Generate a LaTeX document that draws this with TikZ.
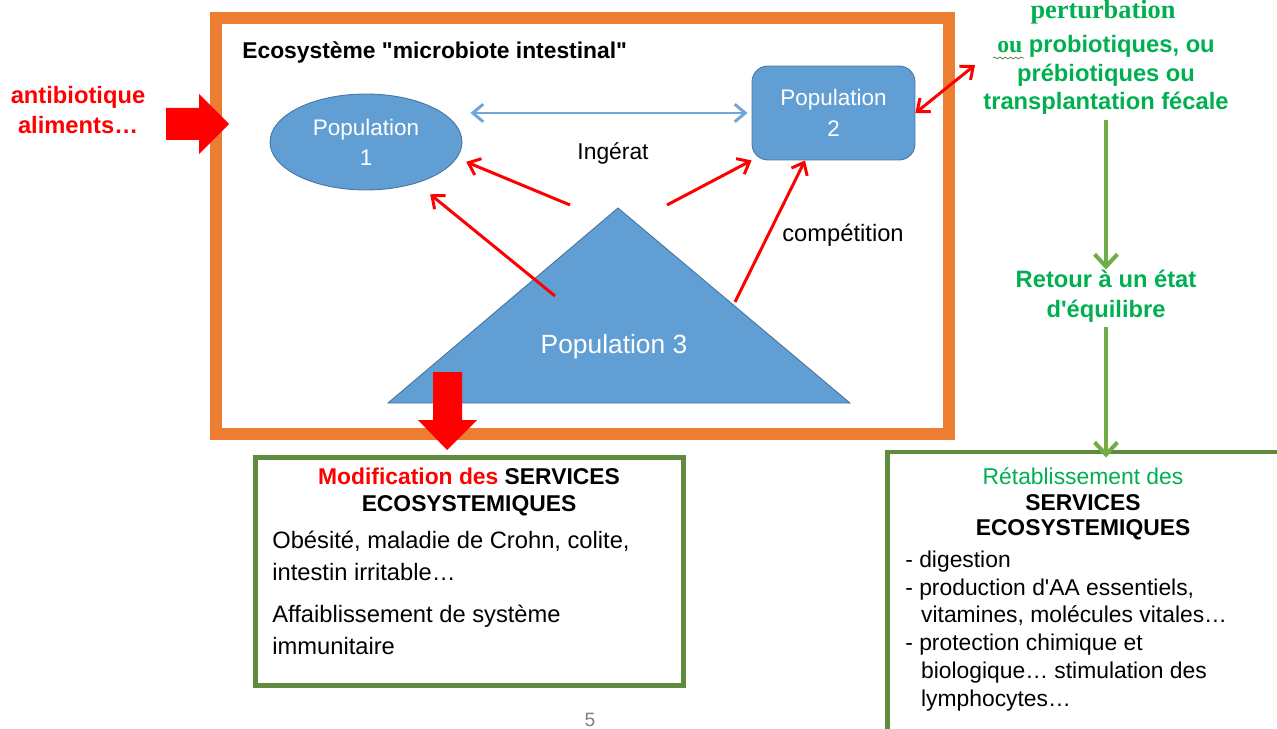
\documentclass[tikz,border=0pt]{standalone}
\usepackage{fontspec}
\setmainfont{Liberation Sans}[Ligatures=TeXOff]
\newfontfamily\serif{Liberation Serif}
\usetikzlibrary{arrows.meta,shapes.geometric,decorations.pathmorphing}

\definecolor{orangeeco}{RGB}{237,125,49}
\definecolor{bleupop}{RGB}{96,158,212}
\definecolor{bordpop}{RGB}{70,118,160}
\definecolor{bleuclair}{RGB}{112,166,216}
\definecolor{vertfleche}{RGB}{112,173,71}
\definecolor{vertcadre}{RGB}{96,138,62}
\definecolor{verttexte}{RGB}{0,176,80}

\begin{document}
\begin{tikzpicture}[x=0.02cm,y=-0.02cm,
  pop/.style={fill=bleupop,draw=bordpop,line width=0.5pt,text=white,align=center,inner sep=0pt},
  lien/.style={red,line width=1.7pt,-{Straight Barb[length=6pt,width=10pt]}},
  liendouble/.style={line width=1.7pt,{Straight Barb[length=6pt,width=10pt]}-{Straight Barb[length=6pt,width=10pt]}},
  lienvert/.style={vertfleche,line width=2.3pt,-{Straight Barb[length=7pt,width=13pt]}},
  cadre/.style={draw=vertcadre,line width=2.8pt,fill=white,inner sep=0pt},
  txt/.style={font=\fontsize{13}{16}\selectfont,inner sep=0pt}]

  \useasboundingbox (0,0) rectangle (1277,729);
  \clip (0,0) rectangle (1277,729);

  \draw[orangeeco,line width=6.8pt] (216,18) rectangle (949,434);
  \node[txt,font=\fontsize{13}{16}\selectfont\bfseries,anchor=west] (titre) at (242,52) {Ecosystème "microbiote intestinal"};

  \node[pop,ellipse,minimum width=3.84cm,minimum height=1.92cm,font=\fontsize{12.8}{17}\selectfont] (pop1) at (366,142) {Population\\1};
  \node[pop,rounded corners=0.32cm,minimum width=3.26cm,minimum height=1.88cm,font=\fontsize{12.8}{17.5}\selectfont] (pop2) at (833.5,113) {Population\\2};
  \filldraw[fill=bleupop,draw=bordpop,line width=0.5pt] (618,208) -- (850,403) -- (388,403) -- cycle;
  \node[txt,text=white,font=\fontsize{15}{18}\selectfont] (pop3) at (614,347) {Population 3};

  \node[txt] (ingerat) at (613,153) {Ingérat};
  \node[txt,font=\fontsize{13.5}{16}\selectfont] (compet) at (843,235) {compétition};

  \coordinate (a1) at (570,205);
  \coordinate (a2) at (555,296);
  \coordinate (a3) at (667,205);
  \coordinate (a4) at (735,302);
  \coordinate (a5) at (975,65);

  \draw[liendouble,bleuclair,shorten <=0.16cm,shorten >=0.08cm] (pop1.east |- pop2.west) -- (pop2.west);
  \draw[lien,shorten >=0.2cm] (a1) -- (pop1.-10);
  \draw[lien,shorten >=0.35cm] (a2) -- (pop1);
  \draw[lien] (a3) -- (pop2.south west);
  \draw[lien] (a4) -- (pop2.-121);
  \draw[liendouble,red] (a5) -- (pop2.east);

  \node[txt,text=red,align=center,font=\fontsize{13.5}{17.6}\selectfont\bfseries] (facteurs) at (78,110) {antibiotique\\aliments…};
  \fill[red] (166,108) -- (199,108) -- (199,94) -- (229,124) -- (199,154) -- (199,140) -- (166,140) -- cycle;

  \node[cadre,minimum width=8.56cm,minimum height=4.56cm] (box1) at (469.5,571.5) {};
  \fill[red] (433,372) -- (462,372) -- (462,420) -- (477,420) -- (447,450) -- (418,420) -- (433,420) -- cycle;
  \node[txt,font=\fontsize{13}{15.9}\selectfont\bfseries,align=center] (modif) at (469,492) {\textcolor{red}{Modification des} SERVICES\\ECOSYSTEMIQUES};
  \node[txt,align=left,anchor=west,font=\fontsize{13.5}{18}\selectfont] (effets) at (272,556) {Obésité, maladie de Crohn, colite,\\intestin irritable…};
  \node[txt,align=left,anchor=west,font=\fontsize{13.5}{18}\selectfont] (immun) at (272,630) {Affaiblissement de système\\immunitaire};

  \node[txt,text=verttexte,font=\serif\bfseries\fontsize{15}{18}\selectfont] (pert0) at (1103,12) {perturbation};
  \node[txt,text=verttexte,align=center,font=\fontsize{13.5}{16.4}\selectfont\bfseries] (pert) at (1106,75) {{\serif ou} probiotiques, ou\\prébiotiques ou\\transplantation fécale};
  \draw[vertfleche!70!black,decorate,decoration={snake,amplitude=0.5pt,segment length=3pt}] (993,58) -- (1024,58);
  \node[txt,text=verttexte,align=center,font=\fontsize{13.5}{17}\selectfont\bfseries] (retour) at (1106,296) {Retour à un état\\d'équilibre};

  \node[cadre,minimum width=8.26cm,minimum height=6.16cm] (box2) at (1093.5,606) {};
  \draw[lienvert,shorten <=0.1cm] (pert.south) -- (retour.north);
  \draw[lienvert,shorten <=0.1cm,shorten >=-0.16cm] (retour.south) -- (retour.south |- box2.north);
  \node[txt,align=center,font=\fontsize{13}{14.7}\selectfont] (retab) at (1083,504) {\textcolor{verttexte}{Rétablissement des}\\\textbf{SERVICES}\\\textbf{ECOSYSTEMIQUES}};
  \node[txt,align=left,anchor=west,font=\fontsize{13}{15.9}\selectfont] (liste) at (905,631) {- digestion\\- production d'AA essentiels,\\\hspace*{9pt}vitamines, molécules vitales…\\- protection chimique et\\\hspace*{9pt}biologique… stimulation des\\\hspace*{9pt}lymphocytes…};

  \node[txt,text=gray,font=\fontsize{11}{13}\selectfont] (page) at (590,720) {5};
\end{tikzpicture}
\end{document}
